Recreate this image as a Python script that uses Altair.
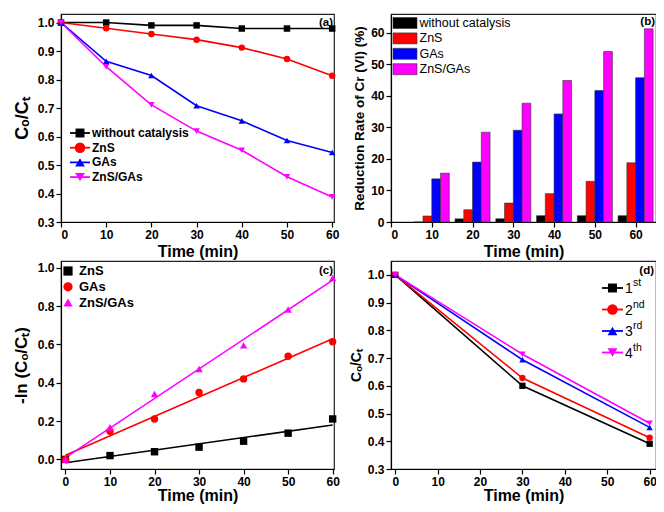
import altair as alt
import pandas as pd

FONT = "Liberation Sans"
TICKS_X = [0, 10, 20, 30, 40, 50, 60]

# ---------------- data ----------------
# (a) Co/Ct vs time
time_a = [0, 10, 20, 30, 40, 50, 60]
names_a = ["without catalysis", "ZnS", "GAs", "ZnS/GAs"]
a_without = [1.0, 1.0, 0.99, 0.99, 0.979, 0.979, 0.979]
a_zns = [1.0, 0.98, 0.96, 0.94, 0.912, 0.872, 0.813]
a_gas = [1.0, 0.864, 0.814, 0.708, 0.655, 0.586, 0.544]
a_znsgas = [1.0, 0.845, 0.711, 0.619, 0.552, 0.459, 0.388]

# (b) reduction rate bars
time_b = [10, 20, 30, 40, 50, 60]
b_without = [0, 1, 1, 2, 2, 2]
b_zns = [1.9, 3.9, 6.0, 9.0, 12.9, 18.8]
b_gas = [13.7, 19.0, 29.1, 34.3, 41.7, 45.8]
b_znsgas = [15.5, 28.5, 37.7, 44.9, 54.1, 61.3]

# (c) -ln(Co/Ct) kinetics
time_c = [0, 10, 20, 30, 40, 50, 60]
names_c = ["ZnS", "GAs", "ZnS/GAs"]
c_zns = [0.0, 0.02, 0.04, 0.064, 0.095, 0.137, 0.211]
c_gas = [0.0, 0.147, 0.211, 0.349, 0.42, 0.538, 0.614]
c_znsgas = [0.0, 0.168, 0.341, 0.472, 0.595, 0.782, 0.946]

# (d) recycling runs
time_d = [0, 30, 60]
run_num = ["1", "2", "3", "4"]
run_sfx = ["st", "nd", "rd", "th"]
names_d = [n + s for n, s in zip(run_num, run_sfx)]
d_1 = [1.0, 0.600, 0.391]
d_2 = [1.0, 0.628, 0.413]
d_3 = [1.0, 0.694, 0.450]
d_4 = [1.0, 0.714, 0.465]

colors4 = ["#000000", "#ff0000", "#0000ff", "#ff00ff"]
colors_c = ["#000000", "#ff0000", "#ff00ff"]
shapes4 = ["square", "circle", "triangle-up", "triangle-down"]
shapes_c = ["square", "circle", "triangle-up"]
leg_sizes = [80, 110, 95, 95]


def long_df(times, names, series):
    rows = []
    for k, (n, vals) in enumerate(zip(names, series)):
        for t, v in zip(times, vals):
            rows.append({"t": t, "s": n, "v": v, "k": k})
    return pd.DataFrame(rows)


df_a = long_df(time_a, names_a, [a_without, a_zns, a_gas, a_znsgas])
df_b = long_df(time_b, names_a, [b_without, b_zns, b_gas, b_znsgas])
df_c = long_df(time_c, names_c, [c_zns, c_gas, c_znsgas])
df_d = long_df(time_d, names_d, [d_1, d_2, d_3, d_4])

W1, W2, H = 273, 265, 208


def one(label):
    return alt.Chart(pd.DataFrame({"lab": [label]}))


def text_at(label, x, y, size, weight="bold", align="left", baseline="middle", font=FONT):
    return one(label).mark_text(align=align, baseline=baseline, font=font, fontWeight=weight,
                                fontSize=size, color="black").encode(
        x=alt.value(x), y=alt.value(y), text="lab:N")


def legend_line_entry(label, color, shape, size, x0, x1, y):
    rule = one(label).mark_rule(color=color, strokeWidth=1.8).encode(
        x=alt.value(x0), x2=alt.value(x1), y=alt.value(y))
    pt = one(label).mark_point(shape=shape, filled=True, color=color, size=size, opacity=1).encode(
        x=alt.value((x0 + x1) / 2), y=alt.value(y))
    return [rule, pt]


def line_marker_layers(df, names, colors, shapes, x, y, msize):
    lines = alt.Chart(df).mark_line(strokeWidth=1.6).encode(
        x=x, y=y,
        color=alt.Color("s:N", scale=alt.Scale(domain=names, range=colors), legend=None),
    )
    layers = [lines]
    for n, c, sh in zip(names, colors, shapes):
        layers.append(
            alt.Chart(df).transform_filter(alt.datum.s == n)
            .mark_point(filled=True, shape=sh, size=msize, color=c, opacity=1)
            .encode(x=x, y=y)
        )
    return layers


def xaxis(title_pad=3):
    return alt.Axis(values=TICKS_X, title="Time (min)", titlePadding=title_pad)


# ---------------- (a) ----------------
xa = alt.X("t:Q", scale=alt.Scale(domain=[0, 60.4], nice=False, zero=False), axis=xaxis(3))
ya = alt.Y("v:Q", scale=alt.Scale(domain=[0.3, 1.03], nice=False, zero=False),
           axis=alt.Axis(values=[0.3, 0.4, 0.5, 0.6, 0.7, 0.8, 0.9, 1.0], format=".1f",
                         title="Cₒ/Cₜ", titleFontSize=18, titlePadding=6))
layers_a = line_marker_layers(df_a, names_a, colors4, shapes4, xa, ya, 42)
for i, (n, c, sh) in enumerate(zip(names_a, colors4, shapes4)):
    yy = 119 + i * 14.7
    layers_a += legend_line_entry(n, c, sh, leg_sizes[i], 9, 29, yy)
    layers_a.append(text_at(n, 31, yy, 12))
layers_a.append(text_at("(a)", W1 - 1, 3, 11.5, align="right", baseline="top"))
pa = alt.layer(*layers_a).properties(width=W1, height=H)

# ---------------- (b) ----------------
xb = alt.X("x1:Q", scale=alt.Scale(domain=[0, 65], nice=False, zero=False), axis=xaxis(3))
yb = alt.Y("v:Q", scale=alt.Scale(domain=[0, 66], nice=False),
           axis=alt.Axis(values=[0, 10, 20, 30, 40, 50, 60], title="Reduction Rate of Cr (VI) (%)",
                         titleFontSize=13.5, titlePadding=4))
bars = alt.Chart(df_b).transform_calculate(
    x1="datum.t + (datum.k - 2) * 2.15", x2="datum.t + (datum.k - 1) * 2.15"
).mark_bar(stroke="#333333", strokeWidth=0.6).encode(
    x=xb, x2="x2:Q", y=yb, y2=alt.datum(0),
    fill=alt.Fill("s:N", scale=alt.Scale(domain=names_a, range=colors4), legend=None),
)
layers_b = [bars]
for i, (n, c) in enumerate(zip(names_a, colors4)):
    yy = 9 + i * 15.4
    layers_b.append(one(n).mark_rect(color=c, stroke="#333333", strokeWidth=0.6).encode(
        x=alt.value(2), x2=alt.value(26), y=alt.value(yy - 5.5), y2=alt.value(yy + 5.5)))
    layers_b.append(text_at(n, 28.5, yy, 12.5, weight="normal"))
layers_b.append(text_at("(b)", W2 - 1, 2, 11.5, align="right", baseline="top"))
pb = alt.layer(*layers_b).properties(width=W2, height=H)

# ---------------- (c) ----------------
xc = alt.X("t:Q", scale=alt.Scale(domain=[-1, 60.3], nice=False, zero=False), axis=xaxis(0))
yc = alt.Y("v:Q", scale=alt.Scale(domain=[-0.05, 1.035], nice=False, zero=False),
           axis=alt.Axis(values=[0.0, 0.2, 0.4, 0.6, 0.8, 1.0], format=".1f",
                         title="-ln (Cₒ/Cₜ)", titleFontSize=17, titlePadding=7))
fit = alt.Chart(df_c).transform_regression("t", "v", groupby=["s"]).mark_line(
    strokeWidth=1.6).encode(
    x=xc, y=yc, color=alt.Color("s:N", scale=alt.Scale(domain=names_c, range=colors_c), legend=None)
)
pts_c = alt.Chart(df_c).mark_point(filled=True, size=55, opacity=1).encode(
    x=xc, y=yc,
    fill=alt.Fill("s:N", scale=alt.Scale(domain=names_c, range=colors_c), legend=None),
    shape=alt.Shape("s:N", scale=alt.Scale(domain=names_c, range=shapes_c), legend=None),
)
layers_c = [fit, pts_c]
for i, (n, c, sh) in enumerate(zip(names_c, colors_c, shapes_c)):
    yy = 10 + i * 15.8
    layers_c.append(one(n).mark_point(shape=sh, filled=True, color=c, size=85, opacity=1).encode(
        x=alt.value(7), y=alt.value(yy)))
    layers_c.append(text_at(n, 18, yy, 13))
layers_c.append(text_at("(c)", W1 - 1, 4, 11.5, align="right", baseline="top"))
pc = alt.layer(*layers_c).properties(width=W1, height=H)

# ---------------- (d) ----------------
xd = alt.X("t:Q", scale=alt.Scale(domain=[-1, 61.5], nice=False, zero=False), axis=xaxis(0))
yd = alt.Y("v:Q", scale=alt.Scale(domain=[0.3, 1.05], nice=False, zero=False),
           axis=alt.Axis(values=[0.3, 0.4, 0.5, 0.6, 0.7, 0.8, 0.9, 1.0], format=".1f",
                         title="Cₒ/Cₜ", titleFontSize=14, titlePadding=4))
layers_d = line_marker_layers(df_d, names_d, colors4, shapes4, xd, yd, 40)
for i, (num, sfx, c, sh) in enumerate(zip(run_num, run_sfx, colors4, shapes4)):
    yy = 27 + i * 21.5
    layers_d += legend_line_entry(num + sfx, c, sh, leg_sizes[i], 211, 232, yy)
    layers_d.append(text_at(num, 234, yy + 1, 14, weight="normal"))
    layers_d.append(text_at(sfx, 242, yy - 5, 10.5, weight="normal"))
layers_d.append(text_at("(d)", W2 - 2, 4, 11.5, align="right", baseline="top"))
pd_ = alt.layer(*layers_d).properties(width=W2, height=H)

SVG_W, SVG_H = 648, 496
PAD_L, PAD_T = 53, 6

chart = alt.concat(pa, pb, pc, pd_, columns=2, spacing={"row": 39, "column": 57},
                   bounds="flush").resolve_scale(
    color="independent", fill="independent", stroke="independent", shape="independent"
).properties(
    autosize=alt.AutoSizeParams(type="none"),
    padding={"left": PAD_L, "top": PAD_T, "right": SVG_W - PAD_L, "bottom": SVG_H - PAD_T},
).configure_axis(
    labelFont=FONT, labelFontSize=12, labelFontWeight="bold", labelColor="black",
    titleFont=FONT, titleFontWeight="bold", titleColor="black", titleFontSize=16,
    domainColor="black", domainWidth=1.2, tickColor="black", tickWidth=1.2, tickSize=5,
    grid=False, labelPadding=2,
).configure_view(stroke="#222222", strokeWidth=1.2)

chart.save("out.html", embed_options={"renderer": "svg", "actions": False})
